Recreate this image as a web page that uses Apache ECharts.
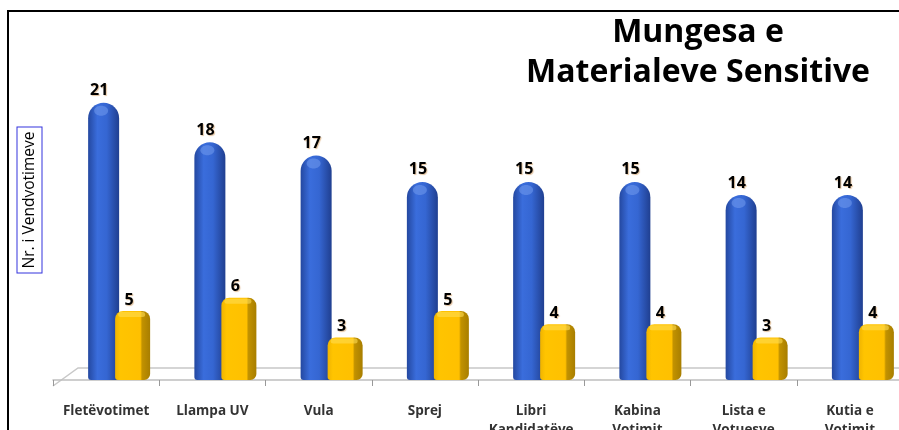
<!DOCTYPE html>
<html>
<head>
<meta charset="utf-8">
<script src="https://cdn.jsdelivr.net/npm/echarts@6/dist/echarts.min.js"></script>
<style>html,body{margin:0;padding:0;background:#fff;}#c{width:899px;height:430px;}</style>
</head>
<body>
<div id="c"></div>
<script>
var categories = ['Fletëvotimet', 'Llampa UV', 'Vula', 'Sprej', 'Libri\nKandidatëve', 'Kabina\nVotimit', 'Lista e\nVotuesve', 'Kutia e\nVotimit'];
var blueValues = [21, 18, 17, 15, 15, 15, 14, 14];
var yellowValues = [5, 6, 3, 5, 4, 4, 3, 4];
var titleText = 'Mungesa e\nMaterialeve Sensitive';
var yAxisTitle = 'Nr. i Vendvotimeve';

var FONT = '"Open Sans", "Liberation Sans", sans-serif';
var chart = echarts.init(document.getElementById('c'));

function blueItem(params, api) {
  var i = api.value(0), v = api.value(1);
  var base = api.coord([i, 0]);
  var top = api.coord([i, v]);
  var cx = base[0];
  var x0 = cx - 18, w = 31;
  return {
    type: 'group',
    children: [
      {
        type: 'rect',
        shape: { x: x0, y: top[1], width: w, height: base[1] - top[1], r: [15.5, 15.5, 3, 3] },
        style: {
          fill: new echarts.graphic.LinearGradient(0, 0, 1, 0, [
            { offset: 0, color: '#2448a0' },
            { offset: 0.3, color: '#3a6ddc' },
            { offset: 0.6, color: '#3566d2' },
            { offset: 1, color: '#203f90' }
          ])
        }
      },
      {
        type: 'ellipse',
        shape: { cx: x0 + 13, cy: top[1] + 8, rx: 7, ry: 5 },
        style: { fill: 'rgba(120,160,240,0.5)' }
      },
      {
        type: 'text',
        x: cx - 7, y: top[1] - 12,
        style: { text: String(v), fill: '#000', font: 'bold 16px ' + FONT, align: 'center', verticalAlign: 'middle',
          textShadowColor: 'rgba(190,120,40,0.45)', textShadowBlur: 1, textShadowOffsetX: 1, textShadowOffsetY: 1 }
      }
    ]
  };
}

function yellowItem(params, api) {
  var i = api.value(0), v = api.value(1);
  var base = api.coord([i, 0]);
  var top = api.coord([i, v]);
  var cx = base[0];
  var x0 = cx + 9, w = 35;
  var ty = top[1] - 3;
  return {
    type: 'group',
    children: [
      {
        type: 'rect',
        shape: { x: x0, y: ty, width: w, height: base[1] - ty, r: [8, 8, 6, 3] },
        style: {
          fill: new echarts.graphic.LinearGradient(0, 0, 1, 0, [
            { offset: 0, color: '#f0b400' },
            { offset: 0.15, color: '#ffc400' },
            { offset: 0.72, color: '#ffc000' },
            { offset: 0.77, color: '#c29200' },
            { offset: 1, color: '#a87e00' }
          ])
        }
      },
      {
        type: 'rect',
        shape: { x: x0 + 3, y: ty + 1, width: w - 8, height: 5, r: 4 },
        style: { fill: 'rgba(255,220,80,0.6)' }
      },
      {
        type: 'text',
        x: cx + 23, y: top[1] - 14,
        style: { text: String(v), fill: '#000', font: 'bold 16px ' + FONT, align: 'center', verticalAlign: 'middle',
          textShadowColor: 'rgba(190,120,40,0.45)', textShadowBlur: 1, textShadowOffsetX: 1, textShadowOffsetY: 1 }
      }
    ]
  };
}

var option = {
  backgroundColor: '#fff',
  animation: false,
  grid: { left: 53, width: 850, top: 63, height: 317, containLabel: false, outerBoundsMode: 'none' },
  xAxis: {
    type: 'category',
    data: categories,
    offset: 6,
    axisLine: { lineStyle: { color: '#bfbfbf', width: 1.5 } },
    axisTick: { show: true, length: 6, lineStyle: { color: '#999' } },
    axisLabel: { interval: 0, margin: 16, color: '#333', fontFamily: FONT, fontWeight: 'bold', fontSize: 13.5, lineHeight: 19 },
    splitLine: { show: false }
  },
  yAxis: {
    type: 'value', min: 0, max: 24,
    axisLine: { show: false }, axisTick: { show: false }, axisLabel: { show: false }, splitLine: { show: false }
  },
  graphic: [
    { type: 'polyline', silent: true, shape: { points: [[8, 431], [8, 11], [900, 11]] }, style: { stroke: '#000', lineWidth: 2, fill: null } },
    { type: 'polyline', silent: true, z: -1, shape: { points: [[53, 386], [78, 368], [900, 368]] }, style: { stroke: '#c8c8c8', lineWidth: 1.5, fill: null } },
    {
      type: 'text', x: 698, y: 53, z: 10,
      style: { text: titleText, fill: '#000', font: 'bold 32px ' + FONT, align: 'center', verticalAlign: 'middle', lineHeight: 40 }
    },
    {
      type: 'text', x: 29.5, y: 200, rotation: Math.PI / 2, z: 10,
      style: { text: yAxisTitle, fill: '#000', font: '15.5px ' + FONT, align: 'center', verticalAlign: 'middle',
        borderColor: '#3333dd', borderWidth: 1, padding: [4, 4, 4, 4], backgroundColor: '#fff' }
    }
  ],
  series: [
    { type: 'custom', name: 'blue', renderItem: blueItem, data: blueValues.map(function (v, i) { return [i, v]; }), encode: { x: 0, y: 1 } },
    { type: 'custom', name: 'yellow', renderItem: yellowItem, data: yellowValues.map(function (v, i) { return [i, v]; }), encode: { x: 0, y: 1 } }
  ]
};
chart.setOption(option);
</script>
</body>
</html>
